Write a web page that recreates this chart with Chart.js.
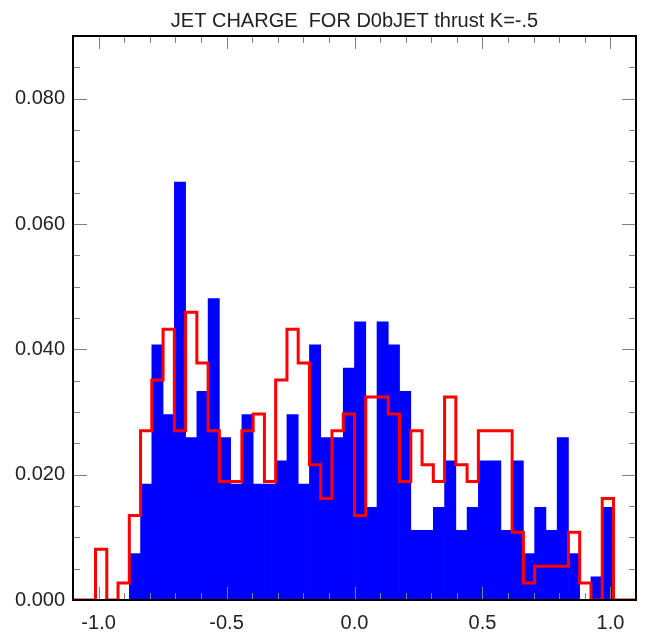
<!DOCTYPE html>
<html>
<head>
<meta charset="utf-8">
<script src="https://cdn.jsdelivr.net/npm/chart.js@4/dist/chart.umd.min.js"></script>
<style>
    html, body { margin: 0; padding: 0; background: #ffffff; }
    canvas { display: block; }
</style>
</head>
<body>
<canvas id="chart-jet" width="654" height="636"></canvas>
<script>
// ── Dati istogramma ────────────────────────────────────────
var binLo = -1.1;
var binWidth = 0.044;
var nBins = 50;

// dati (pieno, blu)
var blueVals = [
    0, 0, 0, 0, 0, 0.0074, 0.0185, 0.0407, 0.0296, 0.0667,
    0.0259, 0.0333, 0.0481, 0.0259, 0.0185, 0.0296, 0.0185, 0.0185, 0.0222, 0.0296,
    0.0185, 0.0407, 0.0259, 0.0259, 0.0370, 0.0444, 0.0148, 0.0444, 0.0407, 0.0333,
    0.0111, 0.0111, 0.0148, 0.0222, 0.0111, 0.0148, 0.0222, 0.0222, 0.0111, 0.0222,
    0.0074, 0.0148, 0.0111, 0.0259, 0.0074, 0, 0.0037, 0.0148, 0, 0
];

// MC (contorno, rosso)
var redVals = [
    0, 0, 0.0081, 0, 0.0027, 0.0135, 0.0270, 0.0351, 0.0432, 0.0270,
    0.0459, 0.0378, 0.0270, 0.0189, 0.0189, 0.0270, 0.0297, 0.0189, 0.0351, 0.0432,
    0.0378, 0.0216, 0.0162, 0.0270, 0.0297, 0.0135, 0.0324, 0.0324, 0.0297, 0.0189,
    0.0270, 0.0216, 0.0189, 0.0324, 0.0216, 0.0189, 0.0270, 0.0270, 0.0270, 0.0108,
    0.0027, 0.0054, 0.0054, 0.0054, 0.0108, 0.0027, 0, 0.0162, 0, 0
];

var xTicks = [-1.0, -0.5, 0.0, 0.5, 1.0];
var yTicks = [0.000, 0.020, 0.040, 0.060, 0.080];
var titleText = 'JET CHARGE  FOR D0bJET thrust K=-.5';

// ── Costruzione dataset ────────────────────────────────────
var blueData = [];
var redData = [];
for (var i = 0; i < nBins; i++) {
    var lo = binLo + i * binWidth;
    blueData.push({ x: lo + binWidth / 2, y: blueVals[i] });
    redData.push({ x: lo, y: redVals[i] });
}
redData.push({ x: binLo + nBins * binWidth, y: redVals[nBins - 1] });

// cornice + tacche interne
var framePlugin = {
    id: 'frame',
    afterDraw: function (chart) {
        var ctx = chart.ctx;
        var a = chart.chartArea;
        var xs = chart.scales.x;
        var ys = chart.scales.y;
        ctx.save();
        ctx.strokeStyle = '#808080';
        ctx.lineWidth = 1;
        ctx.beginPath();
        for (var k = -10; k <= 10; k++) {
            var px = Math.round(xs.getPixelForValue(k / 10)) + 0.5;
            var len = (k % 5 === 0) ? 13 : 7;
            ctx.moveTo(px, a.bottom); ctx.lineTo(px, a.bottom - len);
            ctx.moveTo(px, a.top); ctx.lineTo(px, a.top + len);
        }
        for (var j = 1; j <= 18; j++) {
            var py = Math.round(ys.getPixelForValue(j * 0.005)) + 0.5;
            var l2 = (j % 4 === 0) ? 14 : 7;
            ctx.moveTo(a.left, py); ctx.lineTo(a.left + l2, py);
            ctx.moveTo(a.right, py); ctx.lineTo(a.right - l2, py);
        }
        ctx.stroke();
        ctx.strokeStyle = '#000000';
        ctx.lineWidth = 2;
        ctx.strokeRect(a.left, a.top, a.right - a.left, a.bottom - a.top);
        ctx.restore();
    }
};

var ctx = document.getElementById('chart-jet').getContext('2d');
new Chart(ctx, {
    type: 'bar',
    data: {
        datasets: [
            {
                type: 'line',
                label: 'MC',
                data: redData,
                stepped: true,
                borderColor: '#ff0000',
                borderWidth: 3,
                pointRadius: 0,
                fill: false,
                order: 0
            },
            {
                type: 'bar',
                label: 'dati',
                data: blueData,
                backgroundColor: '#0000ff',
                borderWidth: 0,
                barPercentage: 1,
                categoryPercentage: 1,
                order: 1
            }
        ]
    },
    options: {
        responsive: false,
        animation: false,
        layout: { padding: { right: 18, left: 0 } },
        scales: {
            x: {
                type: 'linear',
                min: -1.1,
                max: 1.1,
                offset: false,
                grid: { display: false, drawTicks: false },
                border: { display: false },
                afterBuildTicks: function (scale) {
                    scale.ticks = xTicks.map(function (v) { return { value: v }; });
                },
                afterFit: function (scale) { scale.height = 36; },
                ticks: {
                    padding: 11,
                    color: '#222222',
                    font: { family: 'Liberation Sans', size: 20 },
                    maxRotation: 0,
                    callback: function (v) { return Number(v).toFixed(1); }
                }
            },
            y: {
                min: 0,
                max: 0.09,
                grid: { display: false, drawTicks: false },
                border: { display: false },
                afterBuildTicks: function (scale) {
                    scale.ticks = yTicks.map(function (v) { return { value: v }; });
                },
                afterFit: function (scale) { scale.width = 73; },
                ticks: {
                    padding: 8,
                    color: '#222222',
                    font: { family: 'Liberation Sans', size: 20 },
                    callback: function (v) { return Number(v).toFixed(3); }
                }
            }
        },
        plugins: {
            legend: { display: false },
            tooltip: { enabled: false },
            title: {
                display: true,
                text: titleText,
                fullSize: false,
                color: '#222222',
                font: { family: 'Liberation Sans', size: 20, weight: 'normal', lineHeight: 1.2 },
                padding: { top: 9, bottom: 3 }
            }
        }
    },
    plugins: [framePlugin]
});
</script>
</body>
</html>
